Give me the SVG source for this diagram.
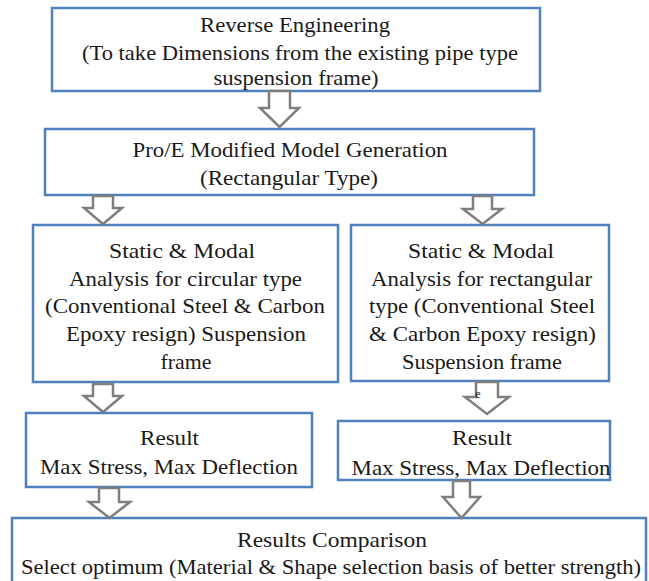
<svg xmlns="http://www.w3.org/2000/svg" width="649" height="581" viewBox="0 0 649 581" font-family="Liberation Serif, DejaVu Serif, serif">
<style>
.box{fill:#ffffff;stroke:#4f81bd;stroke-width:2.5}
.arr{fill:#ffffff;stroke:#7f7f7f;stroke-width:2.5;stroke-linejoin:miter}
.t{font-family:Liberation Serif, DejaVu Serif, serif;font-size:22px;fill:#1a1a1a;text-anchor:middle}
.sm{font-size:12px}
</style>
<rect width="649" height="581" fill="#ffffff"/>
<g id="n1" class="t">
<rect class="box" x="52" y="8" width="488" height="83"/>
<text x="295" y="32" textLength="190" lengthAdjust="spacingAndGlyphs">Reverse Engineering</text>
<text x="300" y="60" textLength="436" lengthAdjust="spacingAndGlyphs">(To take Dimensions from the existing pipe type</text>
<text x="296" y="85" textLength="165" lengthAdjust="spacingAndGlyphs">suspension frame)</text>
</g>
<g id="n2" class="t">
<rect class="box" x="45" y="129" width="489" height="66"/>
<text x="290" y="157" textLength="315" lengthAdjust="spacingAndGlyphs">Pro/E Modified Model Generation</text>
<text x="289" y="185" textLength="178" lengthAdjust="spacingAndGlyphs">(Rectangular Type)</text>
</g>
<g id="n3" class="t">
<rect class="box" x="33" y="225" width="305" height="157"/>
<text x="182" y="258" textLength="146" lengthAdjust="spacingAndGlyphs">Static &amp; Modal</text>
<text x="185.5" y="286" textLength="233" lengthAdjust="spacingAndGlyphs">Analysis for circular type</text>
<text x="185" y="313" textLength="280" lengthAdjust="spacingAndGlyphs">(Conventional Steel &amp; Carbon</text>
<text x="186" y="341" textLength="240" lengthAdjust="spacingAndGlyphs">Epoxy resign) Suspension</text>
<text x="186" y="369" textLength="51" lengthAdjust="spacingAndGlyphs">frame</text>
</g>
<g id="n4" class="t">
<rect class="box" x="351" y="225" width="258" height="156"/>
<text x="481" y="258" textLength="146" lengthAdjust="spacingAndGlyphs">Static &amp; Modal</text>
<text x="481.5" y="286" textLength="221" lengthAdjust="spacingAndGlyphs">Analysis for rectangular</text>
<text x="482" y="313" textLength="226" lengthAdjust="spacingAndGlyphs">type (Conventional Steel</text>
<text x="482.5" y="341" textLength="227" lengthAdjust="spacingAndGlyphs">&amp; Carbon Epoxy resign)</text>
<text x="482" y="369" textLength="160" lengthAdjust="spacingAndGlyphs">Suspension frame</text>
</g>
<g id="n5" class="t">
<rect class="box" x="26" y="413" width="286" height="74"/>
<text x="169.5" y="445" textLength="59" lengthAdjust="spacingAndGlyphs">Result</text>
<text x="169" y="474" textLength="258" lengthAdjust="spacingAndGlyphs">Max Stress, Max Deflection</text>
</g>
<g id="n6" class="t">
<rect class="box" x="338" y="421" width="272" height="59"/>
<text x="482" y="445" textLength="60" lengthAdjust="spacingAndGlyphs">Result</text>
<text x="481" y="475" textLength="259" lengthAdjust="spacingAndGlyphs">Max Stress, Max Deflection</text>
</g>
<g id="n7" class="t">
<rect class="box" x="12" y="518" width="634" height="80"/>
<text x="332" y="547" textLength="190" lengthAdjust="spacingAndGlyphs">Results Comparison</text>
<text x="331" y="574" textLength="620" lengthAdjust="spacingAndGlyphs">Select optimum (Material &amp; Shape selection basis of better strength)</text>
</g>
<g id="connectors">
<polygon class="arr" points="269,91 290,91 290,108 299,108 279.5,127 260,108 269,108"/>
<polygon class="arr" points="93,196 113,196 113,208 122,208 103,224 84,208 93,208"/>
<polygon class="arr" points="473,196 492,196 492,209 502,209 482.5,224 463,209 473,209"/>
<polygon class="arr" points="93,384 113,384 113,396 122,396 103,412 84,396 93,396"/>
<polygon class="arr" points="476,382 498,382 498,397 509,397 487,414 465,397 476,397"/>
<polygon class="arr" points="99,488 119,488 119,502 130,502 109.5,518 89,502 99,502"/>
<polygon class="arr" points="453,481 470,481 470,497 480,497 461.5,518 443,497 453,497"/>
</g>
<g class="t"><text class="sm" x="478" y="398">e</text></g>
</svg>
